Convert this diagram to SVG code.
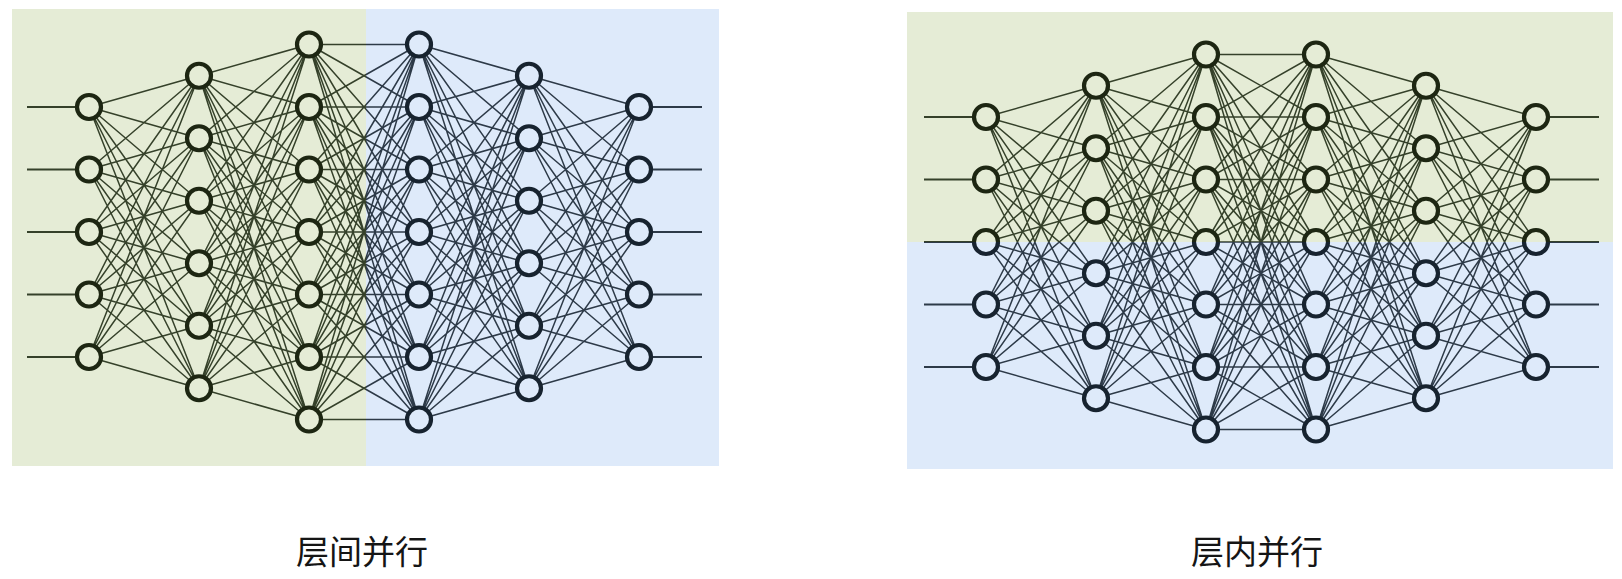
<svg xmlns="http://www.w3.org/2000/svg" xmlns:xlink="http://www.w3.org/1999/xlink" width="1622" height="579" viewBox="0 0 1622 579">
<style>
.cx{fill:none;stroke-width:1.5}
.io{fill:none;stroke-width:1.8}
.ng{fill:#e5ecd6;stroke:#1d2612;stroke-width:4.2}
.nb{fill:#deeafa;stroke:#17232f;stroke-width:4.2}
.nr{fill:url(#fR);stroke:url(#sR);stroke-width:4.2}
.lbl{font-family:"Noto Sans CJK SC","Noto Sans",sans-serif;font-size:33px;fill:#151515;text-anchor:middle}
</style>
<defs>
<linearGradient id="gL" gradientUnits="userSpaceOnUse" x1="276" y1="0" x2="278" y2="0"><stop offset="0.5" stop-color="#35412a"/><stop offset="0.5" stop-color="#2d3a48"/></linearGradient>
<linearGradient id="gR" gradientUnits="userSpaceOnUse" x1="0" y1="-0.5" x2="0" y2="0.5"><stop offset="0.5" stop-color="#35412a"/><stop offset="0.5" stop-color="#2d3a48"/></linearGradient>
<linearGradient id="sR" gradientUnits="userSpaceOnUse" x1="0" y1="-0.5" x2="0" y2="0.5"><stop offset="0.5" stop-color="#1d2612"/><stop offset="0.5" stop-color="#17232f"/></linearGradient>
<linearGradient id="fR" gradientUnits="userSpaceOnUse" x1="0" y1="-0.5" x2="0" y2="0.5"><stop offset="0.5" stop-color="#e5ecd6"/><stop offset="0.5" stop-color="#deeafa"/></linearGradient>
<g id="net">
<path class="cx" d="M0,-125L110,-156.25M0,-125L110,-93.75M0,-125L110,-31.25M0,-125L110,31.25M0,-125L110,93.75M0,-125L110,156.25M0,-62.5L110,-156.25M0,-62.5L110,-93.75M0,-62.5L110,-31.25M0,-62.5L110,31.25M0,-62.5L110,93.75M0,-62.5L110,156.25M0,0L110,-156.25M0,0L110,-93.75M0,0L110,-31.25M0,0L110,31.25M0,0L110,93.75M0,0L110,156.25M0,62.5L110,-156.25M0,62.5L110,-93.75M0,62.5L110,-31.25M0,62.5L110,31.25M0,62.5L110,93.75M0,62.5L110,156.25M0,125L110,-156.25M0,125L110,-93.75M0,125L110,-31.25M0,125L110,31.25M0,125L110,93.75M0,125L110,156.25"/>
<path class="cx" d="M110,-156.25L220,-187.5M110,-156.25L220,-125M110,-156.25L220,-62.5M110,-156.25L220,0M110,-156.25L220,62.5M110,-156.25L220,125M110,-156.25L220,187.5M110,-93.75L220,-187.5M110,-93.75L220,-125M110,-93.75L220,-62.5M110,-93.75L220,0M110,-93.75L220,62.5M110,-93.75L220,125M110,-93.75L220,187.5M110,-31.25L220,-187.5M110,-31.25L220,-125M110,-31.25L220,-62.5M110,-31.25L220,0M110,-31.25L220,62.5M110,-31.25L220,125M110,-31.25L220,187.5M110,31.25L220,-187.5M110,31.25L220,-125M110,31.25L220,-62.5M110,31.25L220,0M110,31.25L220,62.5M110,31.25L220,125M110,31.25L220,187.5M110,93.75L220,-187.5M110,93.75L220,-125M110,93.75L220,-62.5M110,93.75L220,0M110,93.75L220,62.5M110,93.75L220,125M110,93.75L220,187.5M110,156.25L220,-187.5M110,156.25L220,-125M110,156.25L220,-62.5M110,156.25L220,0M110,156.25L220,62.5M110,156.25L220,125M110,156.25L220,187.5"/>
<path class="cx" d="M220,-187.5L330,-187.5M220,-187.5L330,-125M220,-187.5L330,-62.5M220,-187.5L330,0M220,-187.5L330,62.5M220,-187.5L330,125M220,-187.5L330,187.5M220,-125L330,-187.5M220,-125L330,-125M220,-125L330,-62.5M220,-125L330,0M220,-125L330,62.5M220,-125L330,125M220,-125L330,187.5M220,-62.5L330,-187.5M220,-62.5L330,-125M220,-62.5L330,-62.5M220,-62.5L330,0M220,-62.5L330,62.5M220,-62.5L330,125M220,-62.5L330,187.5M220,0L330,-187.5M220,0L330,-125M220,0L330,-62.5M220,0L330,0M220,0L330,62.5M220,0L330,125M220,0L330,187.5M220,62.5L330,-187.5M220,62.5L330,-125M220,62.5L330,-62.5M220,62.5L330,0M220,62.5L330,62.5M220,62.5L330,125M220,62.5L330,187.5M220,125L330,-187.5M220,125L330,-125M220,125L330,-62.5M220,125L330,0M220,125L330,62.5M220,125L330,125M220,125L330,187.5M220,187.5L330,-187.5M220,187.5L330,-125M220,187.5L330,-62.5M220,187.5L330,0M220,187.5L330,62.5M220,187.5L330,125M220,187.5L330,187.5"/>
<path class="cx" d="M330,-187.5L440,-156.25M330,-187.5L440,-93.75M330,-187.5L440,-31.25M330,-187.5L440,31.25M330,-187.5L440,93.75M330,-187.5L440,156.25M330,-125L440,-156.25M330,-125L440,-93.75M330,-125L440,-31.25M330,-125L440,31.25M330,-125L440,93.75M330,-125L440,156.25M330,-62.5L440,-156.25M330,-62.5L440,-93.75M330,-62.5L440,-31.25M330,-62.5L440,31.25M330,-62.5L440,93.75M330,-62.5L440,156.25M330,0L440,-156.25M330,0L440,-93.75M330,0L440,-31.25M330,0L440,31.25M330,0L440,93.75M330,0L440,156.25M330,62.5L440,-156.25M330,62.5L440,-93.75M330,62.5L440,-31.25M330,62.5L440,31.25M330,62.5L440,93.75M330,62.5L440,156.25M330,125L440,-156.25M330,125L440,-93.75M330,125L440,-31.25M330,125L440,31.25M330,125L440,93.75M330,125L440,156.25M330,187.5L440,-156.25M330,187.5L440,-93.75M330,187.5L440,-31.25M330,187.5L440,31.25M330,187.5L440,93.75M330,187.5L440,156.25"/>
<path class="cx" d="M440,-156.25L550,-125M440,-156.25L550,-62.5M440,-156.25L550,0M440,-156.25L550,62.5M440,-156.25L550,125M440,-93.75L550,-125M440,-93.75L550,-62.5M440,-93.75L550,0M440,-93.75L550,62.5M440,-93.75L550,125M440,-31.25L550,-125M440,-31.25L550,-62.5M440,-31.25L550,0M440,-31.25L550,62.5M440,-31.25L550,125M440,31.25L550,-125M440,31.25L550,-62.5M440,31.25L550,0M440,31.25L550,62.5M440,31.25L550,125M440,93.75L550,-125M440,93.75L550,-62.5M440,93.75L550,0M440,93.75L550,62.5M440,93.75L550,125M440,156.25L550,-125M440,156.25L550,-62.5M440,156.25L550,0M440,156.25L550,62.5M440,156.25L550,125"/>
<path class="io" d="M-62,-125H0M-62,-62.5H0M-62,0H0M-62,62.5H0M-62,125H0M550,-125H613M550,-62.5H613M550,0H613M550,62.5H613M550,125H613"/>
</g>
</defs>

<g id="backgrounds">
<rect x="12" y="9" width="354" height="457" fill="#e5ecd6"/>
<rect x="366" y="9" width="353" height="457" fill="#deeafa"/>
<rect x="907" y="12" width="706" height="230" fill="#e5ecd6"/>
<rect x="907" y="242" width="706" height="227" fill="#deeafa"/>
</g>

<g id="connectors">
<use xlink:href="#net" href="#net" transform="translate(89,232)" stroke="url(#gL)"/>
<use xlink:href="#net" href="#net" transform="translate(986,242)" stroke="url(#gR)"/>
</g>

<g id="left-network" transform="translate(89,232)">
<g id="l1n1"><circle class="ng" cx="0" cy="-125" r="12"/></g>
<g id="l1n2"><circle class="ng" cx="0" cy="-62.5" r="12"/></g>
<g id="l1n3"><circle class="ng" cx="0" cy="0" r="12"/></g>
<g id="l1n4"><circle class="ng" cx="0" cy="62.5" r="12"/></g>
<g id="l1n5"><circle class="ng" cx="0" cy="125" r="12"/></g>
<g id="l2n1"><circle class="ng" cx="110" cy="-156.25" r="12"/></g>
<g id="l2n2"><circle class="ng" cx="110" cy="-93.75" r="12"/></g>
<g id="l2n3"><circle class="ng" cx="110" cy="-31.25" r="12"/></g>
<g id="l2n4"><circle class="ng" cx="110" cy="31.25" r="12"/></g>
<g id="l2n5"><circle class="ng" cx="110" cy="93.75" r="12"/></g>
<g id="l2n6"><circle class="ng" cx="110" cy="156.25" r="12"/></g>
<g id="l3n1"><circle class="ng" cx="220" cy="-187.5" r="12"/></g>
<g id="l3n2"><circle class="ng" cx="220" cy="-125" r="12"/></g>
<g id="l3n3"><circle class="ng" cx="220" cy="-62.5" r="12"/></g>
<g id="l3n4"><circle class="ng" cx="220" cy="0" r="12"/></g>
<g id="l3n5"><circle class="ng" cx="220" cy="62.5" r="12"/></g>
<g id="l3n6"><circle class="ng" cx="220" cy="125" r="12"/></g>
<g id="l3n7"><circle class="ng" cx="220" cy="187.5" r="12"/></g>
<g id="l4n1"><circle class="nb" cx="330" cy="-187.5" r="12"/></g>
<g id="l4n2"><circle class="nb" cx="330" cy="-125" r="12"/></g>
<g id="l4n3"><circle class="nb" cx="330" cy="-62.5" r="12"/></g>
<g id="l4n4"><circle class="nb" cx="330" cy="0" r="12"/></g>
<g id="l4n5"><circle class="nb" cx="330" cy="62.5" r="12"/></g>
<g id="l4n6"><circle class="nb" cx="330" cy="125" r="12"/></g>
<g id="l4n7"><circle class="nb" cx="330" cy="187.5" r="12"/></g>
<g id="l5n1"><circle class="nb" cx="440" cy="-156.25" r="12"/></g>
<g id="l5n2"><circle class="nb" cx="440" cy="-93.75" r="12"/></g>
<g id="l5n3"><circle class="nb" cx="440" cy="-31.25" r="12"/></g>
<g id="l5n4"><circle class="nb" cx="440" cy="31.25" r="12"/></g>
<g id="l5n5"><circle class="nb" cx="440" cy="93.75" r="12"/></g>
<g id="l5n6"><circle class="nb" cx="440" cy="156.25" r="12"/></g>
<g id="l6n1"><circle class="nb" cx="550" cy="-125" r="12"/></g>
<g id="l6n2"><circle class="nb" cx="550" cy="-62.5" r="12"/></g>
<g id="l6n3"><circle class="nb" cx="550" cy="0" r="12"/></g>
<g id="l6n4"><circle class="nb" cx="550" cy="62.5" r="12"/></g>
<g id="l6n5"><circle class="nb" cx="550" cy="125" r="12"/></g>
</g>

<g id="right-network" transform="translate(986,242)">
<g id="r1n1"><circle class="nr" cx="0" cy="-125" r="12"/></g>
<g id="r1n2"><circle class="nr" cx="0" cy="-62.5" r="12"/></g>
<g id="r1n3"><circle class="nr" cx="0" cy="0" r="12"/></g>
<g id="r1n4"><circle class="nr" cx="0" cy="62.5" r="12"/></g>
<g id="r1n5"><circle class="nr" cx="0" cy="125" r="12"/></g>
<g id="r2n1"><circle class="nr" cx="110" cy="-156.25" r="12"/></g>
<g id="r2n2"><circle class="nr" cx="110" cy="-93.75" r="12"/></g>
<g id="r2n3"><circle class="nr" cx="110" cy="-31.25" r="12"/></g>
<g id="r2n4"><circle class="nr" cx="110" cy="31.25" r="12"/></g>
<g id="r2n5"><circle class="nr" cx="110" cy="93.75" r="12"/></g>
<g id="r2n6"><circle class="nr" cx="110" cy="156.25" r="12"/></g>
<g id="r3n1"><circle class="nr" cx="220" cy="-187.5" r="12"/></g>
<g id="r3n2"><circle class="nr" cx="220" cy="-125" r="12"/></g>
<g id="r3n3"><circle class="nr" cx="220" cy="-62.5" r="12"/></g>
<g id="r3n4"><circle class="nr" cx="220" cy="0" r="12"/></g>
<g id="r3n5"><circle class="nr" cx="220" cy="62.5" r="12"/></g>
<g id="r3n6"><circle class="nr" cx="220" cy="125" r="12"/></g>
<g id="r3n7"><circle class="nr" cx="220" cy="187.5" r="12"/></g>
<g id="r4n1"><circle class="nr" cx="330" cy="-187.5" r="12"/></g>
<g id="r4n2"><circle class="nr" cx="330" cy="-125" r="12"/></g>
<g id="r4n3"><circle class="nr" cx="330" cy="-62.5" r="12"/></g>
<g id="r4n4"><circle class="nr" cx="330" cy="0" r="12"/></g>
<g id="r4n5"><circle class="nr" cx="330" cy="62.5" r="12"/></g>
<g id="r4n6"><circle class="nr" cx="330" cy="125" r="12"/></g>
<g id="r4n7"><circle class="nr" cx="330" cy="187.5" r="12"/></g>
<g id="r5n1"><circle class="nr" cx="440" cy="-156.25" r="12"/></g>
<g id="r5n2"><circle class="nr" cx="440" cy="-93.75" r="12"/></g>
<g id="r5n3"><circle class="nr" cx="440" cy="-31.25" r="12"/></g>
<g id="r5n4"><circle class="nr" cx="440" cy="31.25" r="12"/></g>
<g id="r5n5"><circle class="nr" cx="440" cy="93.75" r="12"/></g>
<g id="r5n6"><circle class="nr" cx="440" cy="156.25" r="12"/></g>
<g id="r6n1"><circle class="nr" cx="550" cy="-125" r="12"/></g>
<g id="r6n2"><circle class="nr" cx="550" cy="-62.5" r="12"/></g>
<g id="r6n3"><circle class="nr" cx="550" cy="0" r="12"/></g>
<g id="r6n4"><circle class="nr" cx="550" cy="62.5" r="12"/></g>
<g id="r6n5"><circle class="nr" cx="550" cy="125" r="12"/></g>
</g>

<g id="labels">
<text class="lbl" x="362" y="564">层间并行</text>
<text class="lbl" x="1257" y="564">层内并行</text>
</g>
</svg>
